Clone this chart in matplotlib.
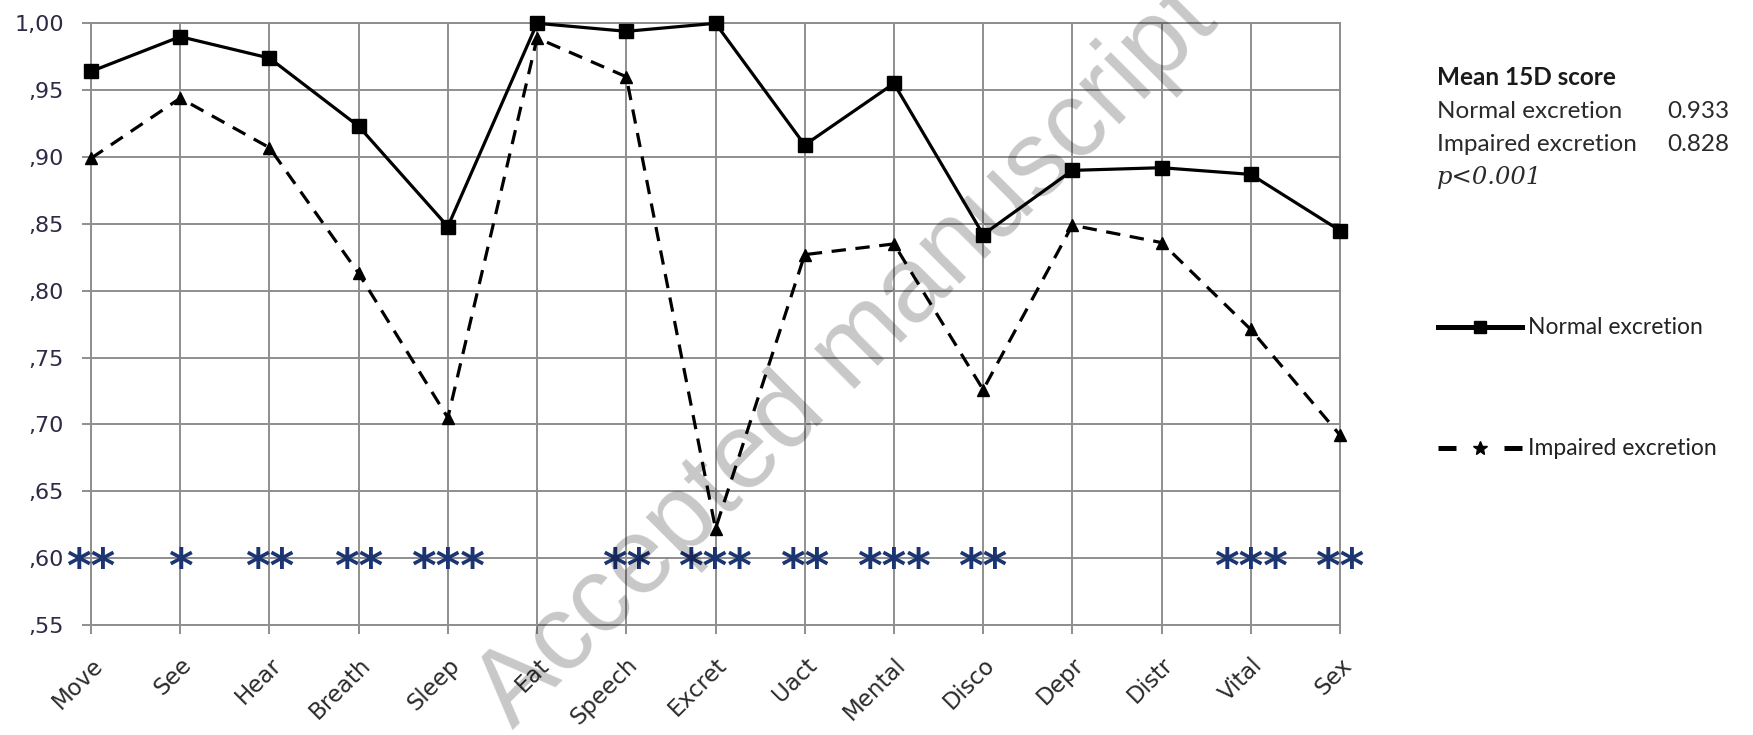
import matplotlib.pyplot as plt
from matplotlib.lines import Line2D
from matplotlib.transforms import offset_copy

# 15D dimensions and mean scores per group
dimensions = ['Move', 'See', 'Hear', 'Breath', 'Sleep', 'Eat', 'Speech', 'Excret',
              'Uact', 'Mental', 'Disco', 'Depr', 'Distr', 'Vital', 'Sex']
normal = [0.964, 0.990, 0.974, 0.923, 0.848, 1.000, 0.994, 1.000,
          0.909, 0.955, 0.842, 0.890, 0.892, 0.887, 0.845]
impaired = [0.899, 0.944, 0.907, 0.813, 0.705, 0.989, 0.960, 0.622,
            0.827, 0.835, 0.726, 0.849, 0.836, 0.771, 0.692]
# significance marks drawn on the ,60 line
stars = ['**', '*', '**', '**', '***', '', '**', '***',
         '**', '***', '**', '', '', '***', '**']
star_level = 0.60

yticks = [0.55, 0.60, 0.65, 0.70, 0.75, 0.80, 0.85, 0.90, 0.95, 1.00]
ytick_labels = [',55', ',60', ',65', ',70', ',75', ',80', ',85', ',90', ',95', '1,00']

mean_normal = 0.933
mean_impaired = 0.828

grid_col = '#8e8e8e'
star_col = '#1b3472'

fig = plt.figure(figsize=(17.53, 7.35), dpi=100)
ax = fig.add_axes([91 / 1753, 110 / 735, 1249 / 1753, 601.7 / 735])

x = list(range(len(dimensions)))
ax.plot(x, normal, color='black', lw=2.3, marker='s', markersize=9.5,
        clip_on=False, zorder=4)
ax.plot(x, impaired, color='black', lw=2.3, ls=(0, (4.5, 3)), marker='^',
        markersize=8, clip_on=False, zorder=4)

star_fs = 34
star_tr = offset_copy(ax.transData, fig=fig, x=0, y=-0.5 * star_fs, units='points')
for i, s in enumerate(stars):
    if s:
        ax.text(i, star_level, s, transform=star_tr, ha='center', va='baseline',
                fontsize=star_fs, fontweight='bold', color=star_col,
                family='DejaVu Sans', zorder=5)

ax.set_xlim(0, len(dimensions) - 1)
ax.set_ylim(0.55, 1.0)
ax.set_xticks(x)
ax.set_xticklabels(dimensions, rotation=45, ha='right', rotation_mode='anchor',
                   fontsize=16.5, color='#2b2b2b', family='DejaVu Sans')
ax.set_yticks(yticks)
ax.set_yticklabels(ytick_labels, fontsize=16, color='#2c2a44', family='DejaVu Sans')
ax.tick_params(axis='y', length=6.5, width=1.4, color=grid_col, pad=13)
ax.tick_params(axis='x', length=6.5, width=1.4, color=grid_col, pad=14)
ax.grid(True, color=grid_col, lw=1.4)
ax.set_axisbelow(True)
for sp in ax.spines.values():
    sp.set_color(grid_col)
    sp.set_linewidth(1.4)

# summary box on the right
txt_fs = 17.5
fig.text(1437 / 1753, 0.895, 'Mean 15D score', fontsize=txt_fs, fontweight='bold',
         family='Lato', va='center', color='#1a1a1a')
fig.text(1437 / 1753, 0.848, 'Normal excretion', fontsize=txt_fs, family='Lato',
         va='center', color='#2a2a2a')
fig.text(1667 / 1753, 0.848, f'{mean_normal:.3f}', fontsize=txt_fs, family='Lato',
         va='center', color='#2a2a2a')
fig.text(1437 / 1753, 0.803, 'Impaired excretion', fontsize=txt_fs, family='Lato',
         va='center', color='#2a2a2a')
fig.text(1667 / 1753, 0.803, f'{mean_impaired:.3f}', fontsize=txt_fs, family='Lato',
         va='center', color='#2a2a2a')
fig.text(1437 / 1753, 0.758, 'p<0.001', fontsize=txt_fs, style='italic',
         family='DejaVu Serif', va='center', color='#2a2a2a')

# legend
fig.add_artist(Line2D([1438 / 1753, 1522 / 1753], [0.555, 0.555], color='black',
                      lw=3.6, transform=fig.transFigure))
fig.add_artist(Line2D([1480 / 1753], [0.555], color='black', marker='s',
                      markersize=8, transform=fig.transFigure))
fig.text(1528 / 1753, 0.555, 'Normal excretion', fontsize=16.5, family='Lato',
         va='center', color='#222222')
fig.add_artist(Line2D([1438 / 1753, 1522 / 1753], [0.390, 0.390], color='black',
                      lw=3.6, ls=(0, (3.6, 9.6)), transform=fig.transFigure))
fig.add_artist(Line2D([1480 / 1753], [0.390], color='black', marker='*',
                      markersize=10, transform=fig.transFigure))
fig.text(1528 / 1753, 0.390, 'Impaired excretion', fontsize=16.5, family='Lato',
         va='center', color='#222222')

# watermark
fig.text(0.483, 0.514, 'Accepted manuscript', rotation=45, fontsize=77,
         color='black', alpha=0.22, ha='center', va='center',
         rotation_mode='anchor', family='Liberation Sans', zorder=10)

fig.savefig('out.png', dpi=100)
